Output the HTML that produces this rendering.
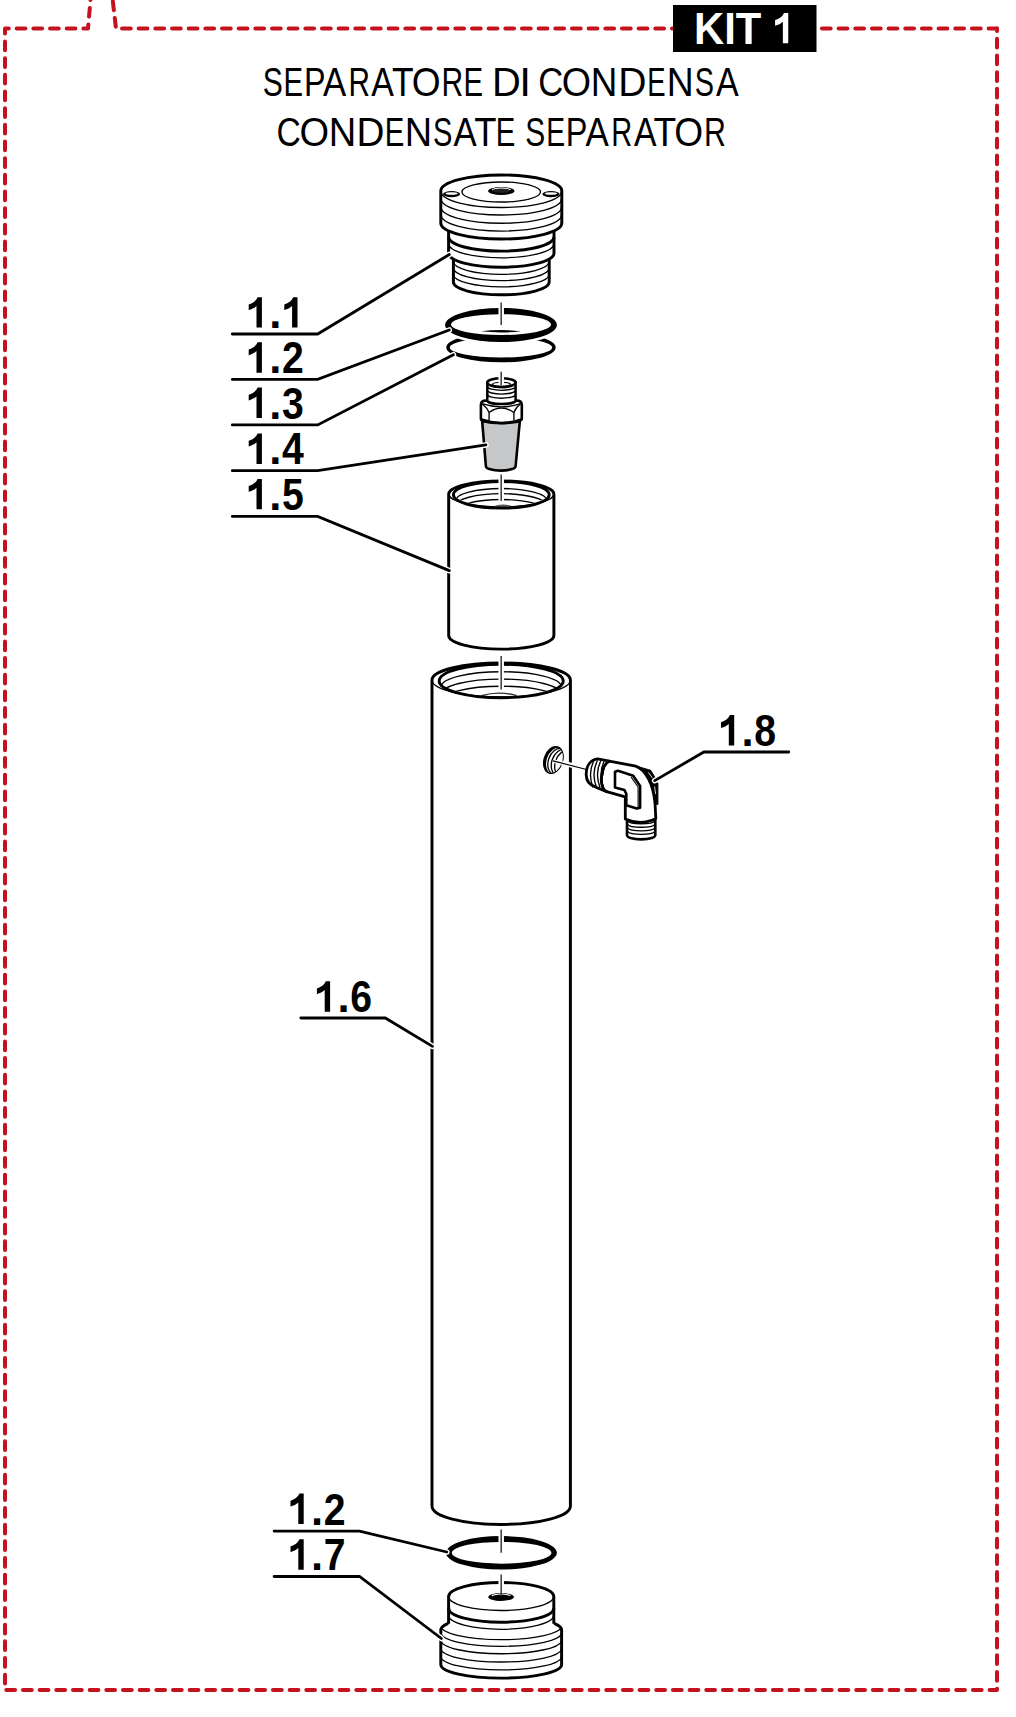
<!DOCTYPE html><html><head><meta charset="utf-8"><style>html,body{margin:0;padding:0;background:#fff;}svg{display:block}</style></head><body>
<svg width="1016" height="1717" viewBox="0 0 1016 1717">
<rect width="1016" height="1717" fill="#fff"/>
<g fill="none" stroke="#c5121f" stroke-width="4" stroke-linecap="round" stroke-linejoin="round" stroke-dasharray="8.75 7.915">
<path d="M91 -6L88 28.6L5 28.6L5 1690L997 1690L997 28.6" stroke-dashoffset="2.7"/>
<path d="M997 28.6L116 28.6L112 -6" stroke-dashoffset="0.34"/>
</g>
<rect x="673" y="5" width="143.5" height="47" fill="#000"/>
<text x="0" y="0" transform="translate(694.1 43.8) scale(0.96 1)" font-family="Liberation Sans" font-weight="bold" font-size="43.5" fill="#fff">KIT</text>
<path d="M782.87 43.2L788.26 43.2L788.26 12.9L783.97 12.9C782.58 16.49 779.19 18.68 775.1 20.08L775.1 25.76C778.19 24.86 780.88 23.47 782.87 21.67 Z" fill="#fff"/>
<g font-family="Liberation Sans" font-size="41.2" fill="#000">
<text transform="translate(262.67 95.6) scale(0.7306 1)">S</text>
<text transform="translate(283.55 95.6) scale(0.7125 1)">E</text>
<text transform="translate(304.01 95.6) scale(0.7835 1)">P</text>
<text transform="translate(322.99 95.6) scale(0.8449 1)">A</text>
<text transform="translate(348.53 95.6) scale(0.7208 1)">R</text>
<text transform="translate(371.3 95.6) scale(0.8229 1)">A</text>
<text transform="translate(391.96 95.6) scale(0.8585 1)">T</text>
<text transform="translate(411.63 95.6) scale(0.9006 1)">O</text>
<text transform="translate(441.6 95.6) scale(0.7290 1)">R</text>
<text transform="translate(463.55 95.6) scale(0.7125 1)">E</text>
<text transform="translate(491.98 95.6) scale(0.9679 1)">D</text>
<text transform="translate(519.15 95.6) scale(1.0330 1)">I</text>
<text transform="translate(538.15 95.6) scale(0.8386 1)">C</text>
<text transform="translate(561.81 95.6) scale(0.9148 1)">O</text>
<text transform="translate(590.83 95.6) scale(0.8936 1)">N</text>
<text transform="translate(618.35 95.6) scale(0.9473 1)">D</text>
<text transform="translate(647.31 95.6) scale(0.6677 1)">E</text>
<text transform="translate(666.69 95.6) scale(0.9066 1)">N</text>
<text transform="translate(694.73 95.6) scale(0.7008 1)">S</text>
<text transform="translate(715.9 95.6) scale(0.8266 1)">A</text>
<text transform="translate(276.5 145.9) scale(0.8155 1)">C</text>
<text transform="translate(299.49 145.9) scale(0.9219 1)">O</text>
<text transform="translate(328.83 145.9) scale(0.9240 1)">N</text>
<text transform="translate(356.58 145.9) scale(0.9391 1)">D</text>
<text transform="translate(384.65 145.9) scale(0.7125 1)">E</text>
<text transform="translate(404.64 145.9) scale(0.9196 1)">N</text>
<text transform="translate(432.92 145.9) scale(0.7051 1)">S</text>
<text transform="translate(453.59 145.9) scale(0.8449 1)">A</text>
<text transform="translate(474.23 145.9) scale(0.8842 1)">T</text>
<text transform="translate(495.85 145.9) scale(0.7125 1)">E</text>
<text transform="translate(525.18 145.9) scale(0.7263 1)">S</text>
<text transform="translate(546.15 145.9) scale(0.6856 1)">E</text>
<text transform="translate(565.79 145.9) scale(0.7880 1)">P</text>
<text transform="translate(585.49 145.9) scale(0.8486 1)">A</text>
<text transform="translate(611.18 145.9) scale(0.7043 1)">R</text>
<text transform="translate(634.1 145.9) scale(0.8192 1)">A</text>
<text transform="translate(653.62 145.9) scale(0.9014 1)">T</text>
<text transform="translate(674.33 145.9) scale(0.9006 1)">O</text>
<text transform="translate(703.97 145.9) scale(0.7373 1)">R</text>
</g>
<g stroke="#000" fill="none">
<path d="M453.4 250A47.9 12.7 0 0 1 549.2 250L549.2 282.1A47.9 12.7 0 0 1 453.4 282.1Z" fill="#fff" stroke-width="2.95"/>
<path d="M453.4 261.6A47.9 12.7 0 0 0 549.2 261.6" stroke-width="1.35"/>
<path d="M453.4 267.9A47.9 12.7 0 0 0 549.2 267.9" stroke-width="1.35"/>
<path d="M453.4 274.2A47.9 12.7 0 0 0 549.2 274.2" stroke-width="1.35"/>
<path d="M448.6 223A52.7 14 0 0 1 554 223L554 253.2A52.7 14 0 0 1 448.6 253.2Z" fill="#fff" stroke-width="2.95"/>
<path d="M448.6 237.1A52.7 14 0 0 0 554 237.1" stroke-width="2.95"/>
<path d="M448.6 243.8A52.7 14 0 0 0 554 243.8" stroke-width="1.35"/>
<path d="M440.8 191A60.5 16 0 0 1 561.8 191L561.8 223A60.5 16 0 0 1 440.8 223Z" fill="#fff" stroke-width="2.95"/>
<path d="M441.1 191.5A60.2 16 0 0 0 561.5 191.5" stroke-width="1.35"/>
<path d="M441.1 199A60.2 16 0 0 0 561.5 199" stroke-width="1.35"/>
<path d="M441.1 207.3A60.2 16 0 0 0 561.5 207.3" stroke-width="1.35"/>
<path d="M441.1 215.1A60.2 16 0 0 0 561.5 215.1" stroke-width="1.35"/>
<ellipse cx="501.2" cy="192" rx="39.3" ry="10" stroke-width="1.35"/>
<ellipse cx="501.3" cy="191" rx="13.2" ry="4" fill="#000" stroke="none"/>
<ellipse cx="501.3" cy="189.6" rx="9.5" ry="2" fill="#fff" stroke="none"/>
<ellipse cx="501.3" cy="190.6" rx="9" ry="2.2" fill="#222" stroke="none"/>
<ellipse cx="451.6" cy="194.1" rx="8.6" ry="3.1" fill="#000" stroke="none"/>
<ellipse cx="451.6" cy="193.5" rx="6.2" ry="1.35" fill="#fff" stroke="none"/>
<ellipse cx="551" cy="194.1" rx="8.6" ry="3.1" fill="#000" stroke="none"/>
<ellipse cx="551" cy="193.5" rx="6.2" ry="1.35" fill="#fff" stroke="none"/>
</g>
<path d="M446.3 347.5a54.7 14.8 0 1 0 109.4 0a54.7 14.8 0 1 0 -109.4 0Z M449.8 347.5a51.2 10 0 1 0 102.4 0a51.2 10 0 1 0 -102.4 0Z" fill="#000" fill-rule="evenodd"/>
<ellipse cx="501" cy="325" rx="55.9" ry="17.1" fill="#fff" stroke="#fff" stroke-width="5"/>
<path d="M445.1 325a55.9 17.1 0 1 0 111.8 0a55.9 17.1 0 1 0 -111.8 0Z M451 324.6a50 10.4 0 1 0 100 0a50 10.4 0 1 0 -100 0Z" fill="#000" fill-rule="evenodd"/>
<path d="M481 331.3Q501 328.8 521 331.3Q501 333.6 481 331.3Z" fill="#000"/>
<g stroke="#000" fill="none">
<path d="M482.2 421.5L485.9 466.2A14.85 4.4 0 0 0 515.6 466.2L519.8 421.5Z" fill="#c6c7c9" stroke-width="2.6"/>
<path d="M480.9 405Q480.9 401 485 400.6L517.6 400.6Q521.8 401 521.8 405L521.8 419Q521.8 422.6 501.3 423.2Q480.9 422.6 480.9 419Z" fill="#fff" stroke-width="2.6"/>
<path d="M482 403.6Q501.3 410.2 520.6 403.6" stroke-width="1.35"/>
<path d="M482.3 404Q487.3 408 489.1 412.5L489.1 420.6" stroke-width="1.35"/>
<path d="M520.3 404Q515.3 408 513.9 412.5L513.9 420.6" stroke-width="1.35"/>
<path d="M489.1 412.5Q501.3 403.6 513.9 412.5" stroke-width="1.35"/>
<path d="M481.3 419.5Q501.3 426.5 521.3 419.5" stroke-width="2.6"/>
<path d="M487.3 382.5L487.3 400.5A14.15 3.6 0 0 0 515.6 400.5L515.6 382.5Z" fill="#fff" stroke-width="2.5"/>
<path d="M487.45 386.5A14 3.8 0 0 0 515.45 386.5" stroke-width="1.35"/>
<path d="M487.45 390.3A14 3.8 0 0 0 515.45 390.3" stroke-width="1.35"/>
<path d="M487.45 394.4A14 3.8 0 0 0 515.45 394.4" stroke-width="1.35"/>
<ellipse cx="501.45" cy="382.6" rx="14.15" ry="4.4" fill="#fff" stroke-width="2.5"/>
<path d="M492.2 384.6A9.3 2.6 0 0 0 510.7 384.6" stroke-width="2.6"/>
<path d="M492.2 384.6A9.3 2.6 0 0 1 510.7 384.6" stroke-width="1.2"/>
</g>
<g stroke="#000" fill="none">
<path d="M448.7 494A52.6 13 0 0 1 553.9 494L553.9 635.6A52.6 13.5 0 0 1 448.7 635.6Z" fill="#fff" stroke-width="2.95"/>
<path d="M448.7 494A52.6 13 0 0 0 553.9 494" stroke-width="1.35"/>
<clipPath id="c5"><ellipse cx="501.3" cy="493.8" rx="47.2" ry="12.2"/></clipPath>
<g clip-path="url(#c5)">
<path d="M455.3 501A46 12.5 0 0 1 547.3 501" stroke-width="1.35"/>
<path d="M455.3 506.1A46 12.5 0 0 1 547.3 506.1" stroke-width="1.35"/>
<path d="M455.3 512A46 12.5 0 0 1 547.3 512" stroke-width="1.35"/>
</g>
<path d="M492.9 506.6Q502.9 502.6 512.9 506.6Q502.9 508.2 492.9 506.6Z" fill="#555" stroke="none"/>
<ellipse cx="501.3" cy="494.8" rx="47.9" ry="13.3" stroke-width="2.95"/>
</g>
<g stroke="#000" fill="none">
<path d="M432 680A69.2 17 0 0 1 570.4 680L570.4 1506.2A69.2 18.2 0 0 1 432 1506.2Z" fill="#fff" stroke-width="2.95"/>
<path d="M432 680A69.2 17 0 0 0 570.4 680" stroke-width="1.35"/>
<clipPath id="c6"><ellipse cx="501.2" cy="680.4" rx="62" ry="16"/></clipPath>
<g clip-path="url(#c6)">
<path d="M441.2 686.7A60 15 0 0 1 561.2 686.7" stroke-width="1.35"/>
<path d="M441.2 694.1A60 15 0 0 1 561.2 694.1" stroke-width="1.35"/>
<path d="M441.2 701.2A60 15 0 0 1 561.2 701.2" stroke-width="1.35"/>
</g>
<path d="M481.5 695.6Q499.1 690.6 516.7 695.6" stroke="#333" stroke-width="1.4"/>
<ellipse cx="501.2" cy="681" rx="62" ry="16.7" stroke-width="2.95"/>
</g>
<clipPath id="ch"><ellipse cx="0" cy="0" rx="9.4" ry="13.9"/></clipPath>
<g transform="translate(553.4 760) rotate(18)">
<ellipse cx="0" cy="0" rx="9.4" ry="13.9" fill="#fff" stroke="none"/>
<g clip-path="url(#ch)" fill="none" stroke="#000">
<path d="M-10 -15H11V15H-10Z M-6.6 0.3a9.3 13.6 0 1 0 18.6 0a9.3 13.6 0 1 0 -18.6 0Z" fill="#000" fill-rule="evenodd" stroke="none"/>
<ellipse cx="4.6" cy="0.2" rx="9.4" ry="13.6" stroke-width="1.3"/>
<ellipse cx="8.2" cy="0.2" rx="9.4" ry="13.6" stroke-width="1.3"/>
<ellipse cx="11.8" cy="0.2" rx="9.4" ry="13.6" stroke-width="1.3"/>
</g>
<ellipse cx="0" cy="0" rx="9.4" ry="13.9" stroke="#000" stroke-width="1.0" fill="none"/>
</g>
<g stroke="#000" fill="none" stroke-linejoin="round">
<path d="M627 820L627 835.5A14.2 4.2 0 0 0 655.3 835.5L655.3 820Z" fill="#fff" stroke-width="2.6"/>
<path d="M627.5 820.8A14 3.6 0 0 0 655 820.8" stroke-width="1.35"/>
<path d="M627.5 824.3A14 3.6 0 0 0 655 824.3" stroke-width="1.35"/>
<path d="M627.5 827.9A14 3.6 0 0 0 655 827.9" stroke-width="1.35"/>
<path d="M627.5 831.4A14 3.6 0 0 0 655 831.4" stroke-width="1.35"/>
<path d="M609.2 761.1L635.7 766.1C646 769.5 653.5 785 655.1 804.2L655.8 818.5Q641 826 625.3 819L625.3 796.8L606.6 791.6C601 789 600.5 779 602.1 774C603 767 605.5 763 609.2 761.1Z" fill="#fff" stroke-width="2.8"/>
<path d="M635.7 766.1L650.4 770.3L654.4 776.7L655.5 781.5L657.8 783.5L657.8 804.2L655.1 804.2C653.5 785 646 769.5 635.7 766.1Z" fill="#000" stroke="#000" stroke-width="1.2"/>
<path d="M648.3 772.4L652.3 777.8" stroke="#fff" stroke-width="0.9"/>
<path d="M654.6 786.5L655.6 794" stroke="#fff" stroke-width="0.8"/>
<path d="M597.7 758.9L609.2 761.1C605.5 763 603 767 602.1 774C600.5 779 601 789 606.6 791.6L596 787.2C589 785 586 780 586.2 774C586.5 765 591 759.5 597.7 758.9Z" fill="#fff" stroke-width="2.8"/>
<path d="M594 760.5Q587.5 773 593 787.5" stroke-width="1.35"/>
<path d="M597.5 760.5Q591 773 596.5 787.5" stroke-width="1.35"/>
<path d="M601 760.5Q594.5 773 600 787.5" stroke-width="1.35"/>
<path d="M604.5 760.5Q598 773 603.5 787.5" stroke-width="1.35"/>
<path d="M615 771.7L618 770.7L633.2 775.7L640.1 786L640.1 807.7L636.7 808.6L626.3 805.2L626.3 793.9L624.4 790L615 787.5Z" fill="#fff" stroke-width="2.6"/>
<path d="M631.2 777.1L638.1 787L638.1 807.2" stroke-width="1.1"/>
</g>
<path d="M445.9 1552.8a55.5 16.7 0 1 0 111 0a55.5 16.7 0 1 0 -111 0Z M451.8 1552.8a49.8 10.9 0 1 0 99.6 0a49.8 10.9 0 1 0 -99.6 0Z" fill="#000" fill-rule="evenodd"/>
<g stroke="#000" fill="none">
<path d="M440.8 1630A60.4 13.5 0 0 1 561.6 1630L561.6 1664.6A60.4 13.5 0 0 1 440.8 1664.6Z" fill="#fff" stroke-width="2.95"/>
<clipPath id="c7"><path d="M440.8 1630A60.4 13.5 0 0 1 561.6 1630L561.6 1664.6A60.4 13.5 0 0 1 440.8 1664.6Z"/></clipPath>
<g clip-path="url(#c7)">
<path d="M440.8 1626.1A60.4 13.5 0 0 0 561.6 1626.1" stroke-width="1.35"/>
<path d="M440.8 1632.8A60.4 13.5 0 0 0 561.6 1632.8" stroke-width="1.35"/>
<path d="M440.8 1640.2A60.4 13.5 0 0 0 561.6 1640.2" stroke-width="1.35"/>
<path d="M440.8 1648.5A60.4 13.5 0 0 0 561.6 1648.5" stroke-width="1.35"/>
<path d="M440.8 1656.4A60.4 13.5 0 0 0 561.6 1656.4" stroke-width="1.35"/>
</g>
<path d="M448.6 1596.5A52.6 14 0 0 1 553.8 1596.5L553.8 1625A52.6 14 0 0 1 448.6 1625Z" fill="#fff" stroke="none"/>
<path d="M448.6 1623.8V1596.5A52.6 14 0 0 1 553.8 1596.5V1623.8" stroke-width="2.95"/>
<path d="M448.6 1596.5A52.6 14 0 0 0 553.8 1596.5" stroke-width="1.35"/>
<path d="M448.6 1608.2A52.6 14 0 0 0 553.8 1608.2" stroke-width="2.95"/>
<path d="M448.6 1615.3A52.6 14 0 0 0 553.8 1615.3" stroke-width="1.35"/>
<ellipse cx="501.1" cy="1597" rx="12.8" ry="4" fill="#000" stroke="none"/>
<ellipse cx="501.1" cy="1595.6" rx="9.6" ry="2" fill="#fff" stroke="none"/>
<ellipse cx="501.1" cy="1596.6" rx="9" ry="2" fill="#000" stroke="none"/>
</g>
<g stroke="#fff" stroke-width="5.5">
<line x1="501.2" y1="306" x2="501.2" y2="316"/>
<line x1="501.2" y1="1534" x2="501.2" y2="1543"/>
<line x1="501.2" y1="372" x2="501.2" y2="384"/>
<line x1="501.2" y1="478" x2="501.2" y2="501"/>
<line x1="501.2" y1="660" x2="501.2" y2="689"/>
<line x1="501.2" y1="1580" x2="501.2" y2="1593"/>
</g>
<g stroke="#3a3a3a" stroke-width="1.5">
<line x1="501.2" y1="302.4" x2="501.2" y2="325.1"/>
<line x1="501.2" y1="371.7" x2="501.2" y2="385.1"/>
<line x1="501.2" y1="474.6" x2="501.2" y2="501.1"/>
<line x1="501.2" y1="655.9" x2="501.2" y2="689.4"/>
<line x1="501.2" y1="1529.4" x2="501.2" y2="1552.8"/>
<line x1="501.2" y1="1574.5" x2="501.2" y2="1596"/>
</g>
<line x1="562" y1="762.8" x2="575" y2="766.2" stroke="#fff" stroke-width="5"/>
<line x1="554.5" y1="761.2" x2="562" y2="763.2" stroke="#fff" stroke-width="3.6"/>
<line x1="553.1" y1="760.9" x2="586.5" y2="769.5" stroke="#000" stroke-width="1.2"/>
<g fill="none" stroke-linecap="round" stroke-linejoin="miter">
<line x1="445.02" y1="257.09" x2="449.3" y2="254.5" stroke="#fff" stroke-width="5.6" stroke-linecap="round"/>
<path d="M232.3 334L317.7 334L449.3 254.5" stroke="#000" stroke-width="2.8"/>
<line x1="444.62" y1="331.76" x2="449.3" y2="330" stroke="#fff" stroke-width="5.6" stroke-linecap="round"/>
<path d="M232.3 379.4L317.7 379.4L449.3 330" stroke="#000" stroke-width="2.8"/>
<line x1="448.96" y1="357.09" x2="453.4" y2="354.8" stroke="#fff" stroke-width="5.6" stroke-linecap="round"/>
<path d="M232.3 424.9L317.7 424.9L453.4 354.8" stroke="#000" stroke-width="2.8"/>
<line x1="480.96" y1="445.66" x2="485.9" y2="444.9" stroke="#fff" stroke-width="5.6" stroke-linecap="round"/>
<path d="M232.3 470.7L317.7 470.7L485.9 444.9" stroke="#000" stroke-width="2.8"/>
<line x1="444.68" y1="568.7" x2="449.3" y2="570.6" stroke="#fff" stroke-width="5.6" stroke-linecap="round"/>
<path d="M232.3 516.4L317.7 516.4L449.3 570.6" stroke="#000" stroke-width="2.8"/>
<line x1="428.22" y1="1043.82" x2="432.5" y2="1046.4" stroke="#fff" stroke-width="5.6" stroke-linecap="round"/>
<path d="M300.8 1018L385.3 1018L432.5 1046.4" stroke="#000" stroke-width="2.8"/>
<line x1="441.94" y1="1550.84" x2="446.8" y2="1552" stroke="#fff" stroke-width="5.6" stroke-linecap="round"/>
<path d="M274.1 1531.1L359.5 1531.1L446.8 1552" stroke="#000" stroke-width="2.8"/>
<line x1="437.41" y1="1635.48" x2="441.4" y2="1638.5" stroke="#fff" stroke-width="5.6" stroke-linecap="round"/>
<path d="M274.1 1576.5L359.5 1576.5L441.4 1638.5" stroke="#000" stroke-width="2.8"/>
<line x1="659.02" y1="778.09" x2="654.7" y2="780.6" stroke="#fff" stroke-width="5.6" stroke-linecap="round"/>
<path d="M788.8 752L703.9 752L654.7 780.6" stroke="#000" stroke-width="2.8"/>
</g>
<g font-family="Liberation Sans" font-weight="bold" font-size="43.5" fill="#000">
<path d="M256.5 327.6L261.9 327.6L261.9 297.2L257.6 297.2C256.2 300.8 252.8 303 248.7 304.4L248.7 310.1C251.8 309.2 254.5 307.8 256.5 306 Z" fill="#000"/>
<text x="269.2" y="328.1">.</text>
<path d="M292.1 327.6L297.5 327.6L297.5 297.2L293.2 297.2C291.8 300.8 288.4 303 284.3 304.4L284.3 310.1C287.4 309.2 290.1 307.8 292.1 306 Z" fill="#000"/>
<path d="M256.5 372.7L261.9 372.7L261.9 342.3L257.6 342.3C256.2 345.9 252.8 348.1 248.7 349.5L248.7 355.2C251.8 354.3 254.5 352.9 256.5 351.1 Z" fill="#000"/>
<text x="269.2" y="373.2">.</text>
<text transform="translate(282 373.2) scale(0.9 1)">2</text>
<path d="M256.5 418L261.9 418L261.9 387.6L257.6 387.6C256.2 391.2 252.8 393.4 248.7 394.8L248.7 400.5C251.8 399.6 254.5 398.2 256.5 396.4 Z" fill="#000"/>
<text x="269.2" y="418.5">.</text>
<text transform="translate(282 418.5) scale(0.9 1)">3</text>
<path d="M256.5 463.9L261.9 463.9L261.9 433.5L257.6 433.5C256.2 437.1 252.8 439.3 248.7 440.7L248.7 446.4C251.8 445.5 254.5 444.1 256.5 442.3 Z" fill="#000"/>
<text x="269.2" y="464.4">.</text>
<text transform="translate(282 464.4) scale(0.9 1)">4</text>
<path d="M256.5 509.3L261.9 509.3L261.9 478.9L257.6 478.9C256.2 482.5 252.8 484.7 248.7 486.1L248.7 491.8C251.8 490.9 254.5 489.5 256.5 487.7 Z" fill="#000"/>
<text x="269.2" y="509.8">.</text>
<text transform="translate(282 509.8) scale(0.9 1)">5</text>
<path d="M324.7 1011.7L330.1 1011.7L330.1 981.3L325.8 981.3C324.4 984.9 321 987.1 316.9 988.5L316.9 994.2C320 993.3 322.7 991.9 324.7 990.1 Z" fill="#000"/>
<text x="337.4" y="1012.2">.</text>
<text transform="translate(350.2 1012.2) scale(0.9 1)">6</text>
<path d="M298.3 1524L303.7 1524L303.7 1493.6L299.4 1493.6C298 1497.2 294.6 1499.4 290.5 1500.8L290.5 1506.5C293.6 1505.6 296.3 1504.2 298.3 1502.4 Z" fill="#000"/>
<text x="311" y="1524.5">.</text>
<text transform="translate(323.8 1524.5) scale(0.9 1)">2</text>
<path d="M298.3 1569.7L303.7 1569.7L303.7 1539.3L299.4 1539.3C298 1542.9 294.6 1545.1 290.5 1546.5L290.5 1552.2C293.6 1551.3 296.3 1549.9 298.3 1548.1 Z" fill="#000"/>
<text x="311" y="1570.2">.</text>
<text transform="translate(323.8 1570.2) scale(0.9 1)">7</text>
<path d="M728.8 745.5L734.2 745.5L734.2 715.1L729.9 715.1C728.5 718.7 725.1 720.9 721 722.3L721 728C724.1 727.1 726.8 725.7 728.8 723.9 Z" fill="#000"/>
<text x="741.5" y="746">.</text>
<text transform="translate(754.3 746) scale(0.9 1)">8</text>
</g>
</svg></body></html>
